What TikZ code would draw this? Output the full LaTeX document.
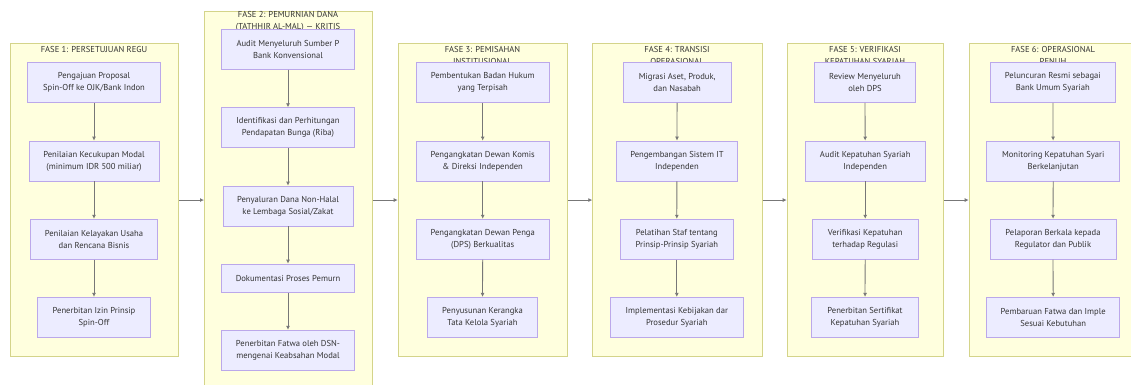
\documentclass[tikz,border=0pt]{standalone}
\usepackage{fontspec}
\setmainfont{PT Sans}
\usetikzlibrary{arrows.meta}
\definecolor{clfill}{HTML}{FFFFDE}
\definecolor{cldraw}{HTML}{D4D48A}
\definecolor{ndfill}{HTML}{ECECFF}
\definecolor{nddraw}{HTML}{BBA8EA}
\definecolor{txt}{HTML}{333333}
\definecolor{ln}{HTML}{777777}
\begin{document}
\begin{tikzpicture}[x=1pt,y=-1pt,
  cluster/.style={draw=cldraw, fill=clfill, line width=0.8pt, anchor=north west, inner sep=0pt, minimum height=312.7pt},
  ttl/.style={font=\fontsize{8.6}{11.5}\selectfont, text=txt, align=center, inner sep=0pt},
  box/.style={draw=nddraw, fill=ndfill, line width=0.8pt, font=\fontsize{8.6}{12}\selectfont, text=txt, align=center, inner sep=0pt, minimum height=40pt},
  arr/.style={draw=ln, line width=0.8pt, -{Latex[length=4pt,width=4pt]}}]
\useasboundingbox (0,0) rectangle (1131,385);
\clip (0,0) rectangle (1131,385);
% clusters
\node[cluster, minimum width=168pt] (c1) at (10,43.3) {};
\node[cluster, minimum width=168pt, minimum height=378.6pt] (c2) at (204,10.7) {};
\node[cluster, minimum width=169.6pt] (c3) at (397.7,43.3) {};
\node[cluster, minimum width=169.4pt] (c4) at (592.3,43.3) {};
\node[cluster, minimum width=156.6pt] (c5) at (786.7,43.3) {};
\node[cluster, minimum width=169pt] (c6) at (968.7,43.3) {};
% titles
\node[ttl] (t1) at (94,49.3) {FASE 1: PERSETUJUAN REGU};
\node[ttl] (t2) at (288,21.5) {FASE 2: PEMURNIAN DANA\\(TATHHIR AL-MAL) — KRITIS};
\node[ttl] (t3) at (482.5,55.5) {FASE 3: PEMISAHAN\\INSTITUSIONAL};
\node[ttl] (t4) at (677,55.5) {FASE 4: TRANSISI\\OPERASIONAL};
\node[ttl] (t5) at (865,55.5) {FASE 5: VERIFIKASI\\KEPATUHAN SYARIAH};
\node[ttl] (t6) at (1053,55.5) {FASE 6: OPERASIONAL\\PENUH};
% fase 1
\node[box, minimum width=133pt] (a1) at (94,82.5) {Pengajuan Proposal\\Spin-Off ke OJK/Bank Indon};
\node[box, minimum width=130pt] (a2) at (94,161) {Penilaian Kecukupan Modal\\(minimum IDR 500 miliar)};
\node[box, minimum width=127.7pt] (a3) at (94,239.2) {Penilaian Kelayakan Usaha\\dan Rencana Bisnis};
\node[box, minimum width=113pt] (a4) at (94,317.3) {Penerbitan Izin Prinsip\\Spin-Off};
% fase 2
\node[box, minimum width=133pt] (b1) at (288,49.3) {Audit Menyeluruh Sumber P\\Bank Konvensional};
\node[box, minimum width=133pt] (b2) at (288,127.7) {Identifikasi dan Perhitungan\\Pendapatan Bunga (Riba)};
\node[box, minimum width=130pt] (b3) at (288,206) {Penyaluran Dana Non-Halal\\ke Lembaga Sosial/Zakat};
\node[box, minimum width=133pt, minimum height=28.3pt] (b4) at (288,278.2) {Dokumentasi Proses Pemurn};
\node[box, minimum width=133pt] (b5) at (288,350.2) {Penerbitan Fatwa oleh DSN-\\mengenai Keabsahan Modal};
% fase 3
\node[box, minimum width=133.3pt] (p1) at (482.7,82.5) {Pembentukan Badan Hukum\\yang Terpisah};
\node[box, minimum width=133.3pt] (p2) at (482.7,161) {Pengangkatan Dewan Komis\\\& Direksi Independen};
\node[box, minimum width=133.3pt] (p3) at (482.7,239.2) {Pengangkatan Dewan Penga\\(DPS) Berkualitas};
\node[box, minimum width=109.6pt] (p4) at (482.5,317.3) {Penyusunan Kerangka\\Tata Kelola Syariah};
% fase 4
\node[box, minimum width=107.7pt] (q1) at (677.2,82.5) {Migrasi Aset, Produk,\\dan Nasabah};
\node[box, minimum width=121.7pt] (q2) at (676.9,161) {Pengembangan Sistem IT\\Independen};
\node[box, minimum width=113pt] (q3) at (676.8,239.2) {Pelatihan Staf tentang\\Prinsip-Prinsip Syariah};
\node[box, minimum width=133pt] (q4) at (676.8,317.3) {Implementasi Kebijakan dar\\Prosedur Syariah};
% fase 5
\node[box, minimum width=101.4pt] (r1) at (865,82.5) {Review Menyeluruh\\oleh DPS};
\node[box, minimum width=120.3pt] (r2) at (865.2,161) {Audit Kepatuhan Syariah\\Independen};
\node[box, minimum width=105.7pt] (r3) at (865.2,239.2) {Verifikasi Kepatuhan\\terhadap Regulasi};
\node[box, minimum width=107.4pt] (r4) at (865,317.3) {Penerbitan Sertifikat\\Kepatuhan Syariah};
% fase 6
\node[box, minimum width=125pt] (s1) at (1052.8,82.5) {Peluncuran Resmi sebagai\\Bank Umum Syariah};
\node[box, minimum width=133pt] (s2) at (1053.2,161) {Monitoring Kepatuhan Syari\\Berkelanjutan};
\node[box, minimum width=126pt] (s3) at (1053,239.2) {Pelaporan Berkala kepada\\Regulator dan Publik};
\node[box, minimum width=133pt] (s4) at (1053.2,317.3) {Pembaruan Fatwa dan Imple\\Sesuai Kebutuhan};
% arrows within phases
\draw[arr] (a1) -- (a2);
\draw[arr] (a2) -- (a3);
\draw[arr] (a3) -- (a4);
\draw[arr] (b1) -- (b2);
\draw[arr] (b2) -- (b3);
\draw[arr] (b3) -- (b4);
\draw[arr] (b4) -- (b5);
\draw[arr] (p1) -- (p2);
\draw[arr] (p2) -- (p3);
\draw[arr] (p3) -- (p4);
\draw[arr] (q1) -- (q2);
\draw[arr] (q2) -- (q3);
\draw[arr] (q3) -- (q4);
\draw[arr] (r1) -- (r2);
\draw[arr] (r2) -- (r3);
\draw[arr] (r3) -- (r4);
\draw[arr] (s1) -- (s2);
\draw[arr] (s2) -- (s3);
\draw[arr] (s3) -- (s4);
% arrows between phases
\draw[arr] (c1.east) -- (c1.east -| c2.west);
\draw[arr] (c2.east |- c1.east) -- (c3.west);
\draw[arr] (c3.east) -- (c4.west);
\draw[arr] (c4.east) -- (c5.west);
\draw[arr] (c5.east) -- (c6.west);
\end{tikzpicture}
\end{document}
